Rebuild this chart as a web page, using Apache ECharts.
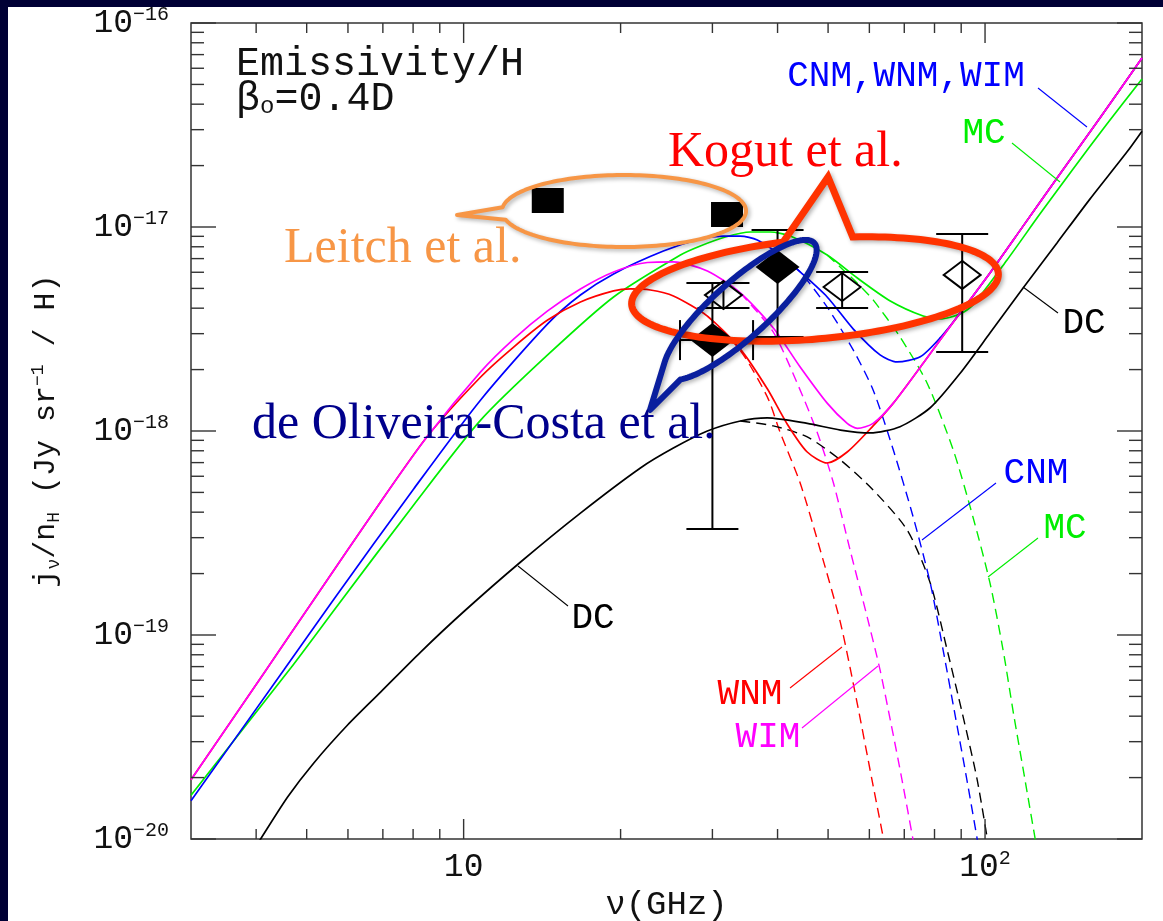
<!DOCTYPE html>
<html><head><meta charset="utf-8">
<script src="https://cdn.jsdelivr.net/npm/echarts@6/dist/echarts.min.js"></script>
<style>html,body{margin:0;padding:0;background:#000035;}#c{width:1163px;height:921px;}</style>
</head><body><div id="c"></div>
<script>
// ---------------- data (frequency in GHz, emissivity in Jy sr^-1 / H) ----------------
// CNM (blue)
const cnmNu = [3.0, 4.52, 5.66, 8.02, 10.78, 14.49, 16.75, 19.39, 24.16, 28.44, 31.49, 33.94, 36.58, 40.5, 44.2, 49.8, 55.9, 62.9, 67.8, 75.1, 82.0, 89.6, 102.2, 118.3, 139.2, 166.1, 200];
const cnmJ  = [1.54e-20, 6.74e-20, 1.52e-19, 5.20e-19, 1.42e-18, 3.35e-18, 4.64e-18, 5.89e-18, 7.62e-18, 8.73e-18, 9.03e-18, 9.03e-18, 8.64e-18, 7.29e-18, 6.02e-18, 4.54e-18, 3.16e-18, 2.36e-18, 2.18e-18, 2.31e-18, 2.86e-18, 3.79e-18, 5.95e-18, 1.01e-17, 1.82e-17, 3.42e-17, 6.74e-17];
const cnmDashNu = [40.5, 44.2, 49.8, 55.9, 61.0, 66.7, 72.8, 78.5, 83.1, 87.6, 92.3, 98.5];
const cnmDashJ  = [7.29e-18, 6.02e-18, 4.05e-18, 2.49e-18, 1.59e-18, 8.07e-19, 3.79e-19, 1.80e-19, 8.44e-20, 4.06e-20, 1.95e-20, 7.5e-21];
// WNM (red)
const wnmNu = [3.0, 4.18, 5.16, 6.93, 8.53, 10.78, 12.47, 14.49, 16.75, 19.39, 20.89, 22.81, 25.25, 29.34, 33.94, 38.23, 41.76, 45.6, 49.8, 54.4, 61.0, 66.7, 76.1, 88.4, 102.2, 118.3, 139.2, 166.1, 200];
const wnmJ  = [1.95e-20, 6.74e-20, 1.49e-19, 4.49e-19, 9.45e-19, 1.84e-18, 2.58e-18, 3.50e-18, 4.29e-18, 4.86e-18, 4.97e-18, 4.91e-18, 4.59e-18, 3.66e-18, 2.52e-18, 1.61e-18, 1.08e-18, 7.89e-19, 6.97e-19, 7.89e-19, 1.06e-18, 1.37e-18, 2.15e-18, 3.62e-18, 5.95e-18, 1.01e-17, 1.82e-17, 3.42e-17, 6.74e-17];
const wnmDashNu = [29.34, 33.94, 38.23, 40.5, 44.2, 48.3, 52.8, 56.7, 60.7, 65.5];
const wnmDashJ  = [3.66e-18, 2.48e-18, 1.47e-18, 9.78e-19, 5.56e-19, 2.61e-19, 1.15e-19, 4.80e-20, 1.95e-20, 7.2e-21];
// WIM (magenta)
const wimNu = [3.0, 4.18, 5.16, 6.93, 8.53, 10.78, 12.47, 14.49, 16.75, 19.39, 22.52, 25.25, 29.34, 33.94, 39.26, 44.2, 49.8, 54.4, 56.9, 61.0, 66.7, 76.1, 88.4, 102.2, 118.3, 139.2, 166.1, 200];
const wimJ  = [1.95e-20, 6.74e-20, 1.49e-19, 4.49e-19, 9.45e-19, 1.95e-18, 2.82e-18, 3.88e-18, 4.97e-18, 6.02e-18, 6.70e-18, 6.74e-18, 6.09e-18, 4.75e-18, 3.20e-18, 2.06e-18, 1.37e-18, 1.09e-18, 1.03e-18, 1.09e-18, 1.37e-18, 2.15e-18, 3.62e-18, 5.95e-18, 1.01e-17, 1.82e-17, 3.42e-17, 6.74e-17];
const wimDashNu = [33.94, 39.26, 43.6, 47.7, 51.2, 55.1, 59.4, 62.9, 66.1, 69.3, 75.0];
const wimDashJ  = [4.75e-18, 3.05e-18, 1.72e-18, 9.78e-19, 5.56e-19, 2.61e-19, 1.23e-19, 6.74e-20, 3.62e-20, 1.95e-20, 6.5e-21];
// MC (green)
const mcNu = [3.0, 4.66, 5.76, 8.02, 10.78, 14.49, 19.39, 26.05, 28.44, 31.77, 35.46, 38.73, 42.3, 49.8, 56.9, 65.8, 76.1, 82.0, 89.6, 94.8, 110.2, 127.5, 147.4, 171.3, 200];
const mcJ  = [1.64e-20, 6.89e-20, 1.42e-19, 4.34e-19, 1.13e-18, 2.36e-18, 4.54e-18, 7.29e-18, 8.07e-18, 8.93e-18, 9.45e-18, 9.45e-18, 9.03e-18, 7.29e-18, 5.62e-18, 4.34e-18, 3.66e-18, 3.54e-18, 3.75e-18, 4.15e-18, 6.89e-18, 1.16e-17, 1.92e-17, 3.20e-17, 5.31e-17];
const mcDashNu = [49.8, 56.9, 61.0, 68.7, 77.4, 86.9, 94.8, 102.2, 108.3, 113.5, 119.3, 127.0];
const mcDashJ  = [7.29e-18, 5.3e-18, 4.39e-18, 2.89e-18, 1.72e-18, 8.07e-19, 3.79e-19, 1.80e-19, 8.44e-20, 4.06e-20, 1.95e-20, 7.7e-21];
// DC (black)
const dcNu = [3.74, 4.08, 4.60, 5.16, 5.99, 6.93, 8.27, 10.0, 12.86, 16.75, 21.83, 25.25, 29.34, 33.94, 38.23, 45.6, 52.8, 60.2, 68.7, 78.5, 89.6, 102.2, 118.3, 137.4, 158.9, 187.1, 200];
const dcJ  = [7.05e-21, 1.0e-20, 1.61e-20, 2.36e-20, 3.62e-20, 5.25e-20, 8.25e-20, 1.30e-19, 2.28e-19, 3.96e-19, 6.59e-19, 8.25e-19, 1.0e-18, 1.12e-18, 1.16e-18, 1.09e-18, 1.01e-18, 9.78e-19, 1.05e-18, 1.30e-18, 1.92e-18, 3.02e-18, 5.02e-18, 8.35e-18, 1.37e-17, 2.33e-17, 2.95e-17];
const dcDashNu = [33.94, 39.26, 45.6, 52.8, 61.0, 70.9, 78.5, 84.6, 90.6, 96.6, 103.0];
const dcDashJ  = [1.12e-18, 1.06e-18, 9.35e-19, 7.21e-19, 5.14e-19, 3.27e-19, 1.80e-19, 8.44e-20, 4.06e-20, 1.95e-20, 7.4e-21];

// observations
const leitchNu = [14.5, 32.0];
const leitchJ  = [1.35e-17, 1.15e-17];
const kogutNu = [31.5, 53.2, 90.4];
const kogutJ  = [4.64e-18, 5.08e-18, 5.82e-18];
const kogutLo = [4.01e-18, 4.01e-18, 2.44e-18];
const kogutHi = [5.31e-18, 6.02e-18, 9.24e-18];
const docNu = [30.0, 40.0];
const docJ  = [2.79e-18, 6.37e-18];
const docLo = [3.31e-19, 2.89e-18];
const docHi = [5.31e-18, 9.67e-18];
const docNuLo = [26.0, null];
const docNuHi = [35.9, null];

// ticks
const xMajorTicks = [10, 100];
const xMinorTicks = [4, 5, 6, 7, 8, 9, 20, 30, 40, 50, 60, 70, 80, 90];
const yMajorTicks = [1e-20, 1e-19, 1e-18, 1e-17, 1e-16];
const yMinorMantissas = [2, 3, 4, 5, 6, 7, 8, 9];
const yMinorDecades = [-20, -19, -18, -17];

// ---------------- chart ----------------
const X_MIN = 3, X_MAX = 200, Y_MIN = 1e-20, Y_MAX = 1e-16;
const MONO = '"Liberation Mono", "DejaVu Sans Mono", monospace';
const SERIF = '"Liberation Serif", "DejaVu Serif", serif';
const AX = '#333333';
const C = {cnm: '#0000ff', wnm: '#ff0000', wim: '#ff00ff', mc: '#00ee00', dc: '#000000'};

const zip = (a, b) => a.map((v, i) => [v, b[i]]);
function curve(name, nu, j, color, dashed) {
  return {
    name, type: 'line', data: zip(nu, j), showSymbol: false, symbol: 'none',
    smooth: 0.25, clip: true, silent: true, z: dashed ? 2 : 3,
    lineStyle: {color, width: dashed ? 1.4 : 1.7, type: dashed ? [10, 6] : 'solid'}
  };
}

const yMinorTicks = [];
yMinorDecades.forEach(d => yMinorMantissas.forEach(m => yMinorTicks.push(m * Math.pow(10, d))));
const xTickData = xMajorTicks.map(v => [v, Y_MIN, 1]).concat(xMinorTicks.map(v => [v, Y_MIN, 0]));
const yTickData = yMajorTicks.map(v => [X_MIN, v, 1]).concat(yMinorTicks.map(v => [X_MIN, v, 0]));

const tickLine = (x1, y1, x2, y2) => ({type: 'line', shape: {x1, y1, x2, y2}, style: {stroke: AX, lineWidth: 1.4}});

const series = [
  // dashed (spinning dust only)
  curve('WNM dashed', wnmDashNu, wnmDashJ, C.wnm, true),
  curve('WIM dashed', wimDashNu, wimDashJ, C.wim, true),
  curve('DC dashed', dcDashNu, dcDashJ, C.dc, true),
  curve('CNM dashed', cnmDashNu, cnmDashJ, C.cnm, true),
  curve('MC dashed', mcDashNu, mcDashJ, C.mc, true),
  // solid totals
  curve('MC', mcNu, mcJ, C.mc, false),
  curve('CNM', cnmNu, cnmJ, C.cnm, false),
  curve('WNM', wnmNu, wnmJ, C.wnm, false),
  curve('WIM', wimNu, wimJ, C.wim, false),
  curve('DC', dcNu, dcJ, C.dc, false),
  // ticks
  {
    type: 'custom', silent: true, z: 6, data: xTickData,
    renderItem: (params, api) => {
      const cs = params.coordSys;
      const p = api.coord([api.value(0), api.value(1)]);
      const len = api.value(2) ? 20 : 10;
      const b = cs.y + cs.height;
      return {type: 'group', children: [tickLine(p[0], b, p[0], b - len), tickLine(p[0], cs.y, p[0], cs.y + len)]};
    }
  },
  {
    type: 'custom', silent: true, z: 6, data: yTickData,
    renderItem: (params, api) => {
      const cs = params.coordSys;
      const p = api.coord([api.value(0), api.value(1)]);
      const len = api.value(2) ? 25 : 13;
      const r = cs.x + cs.width;
      return {type: 'group', children: [tickLine(cs.x, p[1], cs.x + len, p[1]), tickLine(r, p[1], r - len, p[1])]};
    }
  },
  // vertical error bars
  {
    type: 'custom', silent: true, z: 4,
    data: kogutNu.map((v, i) => [v, kogutLo[i], kogutHi[i]]).concat(docNu.map((v, i) => [v, docLo[i], docHi[i]])),
    encode: {x: 0, y: [1, 2]},
    renderItem: (params, api) => {
      const lo = api.coord([api.value(0), api.value(1)]);
      const hi = api.coord([api.value(0), api.value(2)]);
      const w = 26, st = {stroke: '#000', lineWidth: 2};
      return {type: 'group', children: [
        {type: 'line', shape: {x1: lo[0], y1: lo[1], x2: hi[0], y2: hi[1]}, style: st},
        {type: 'line', shape: {x1: lo[0] - w, y1: lo[1], x2: lo[0] + w, y2: lo[1]}, style: st},
        {type: 'line', shape: {x1: hi[0] - w, y1: hi[1], x2: hi[0] + w, y2: hi[1]}, style: st}
      ]};
    }
  },
  // horizontal error bars
  {
    type: 'custom', silent: true, z: 4,
    data: docNu.map((v, i) => [docNuLo[i], docNuHi[i], docJ[i]]).filter(d => d[0] != null),
    encode: {x: [0, 1], y: 2},
    renderItem: (params, api) => {
      const a = api.coord([api.value(0), api.value(2)]);
      const b = api.coord([api.value(1), api.value(2)]);
      const h = 20, st = {stroke: '#000', lineWidth: 2};
      return {type: 'group', children: [
        {type: 'line', shape: {x1: a[0], y1: a[1], x2: b[0], y2: b[1]}, style: st},
        {type: 'line', shape: {x1: a[0], y1: a[1] - h, x2: a[0], y2: a[1] + h}, style: st},
        {type: 'line', shape: {x1: b[0], y1: b[1] - h, x2: b[0], y2: b[1] + h}, style: st}
      ]};
    }
  },
  {name: 'Leitch', type: 'scatter', data: zip(leitchNu, leitchJ), symbol: 'rect', symbolSize: [32, 25], z: 5, silent: true,
   itemStyle: {color: '#000', opacity: 1}},
  {name: 'Kogut', type: 'scatter', data: zip(kogutNu, kogutJ), symbol: 'diamond', symbolSize: [37, 28], z: 5, silent: true,
   itemStyle: {color: 'rgba(0,0,0,0)', borderColor: '#000', borderWidth: 2, opacity: 1}},
  {name: 'de Oliveira-Costa', type: 'scatter', data: zip(docNu, docJ), symbol: 'diamond', symbolSize: [44, 34], z: 5, silent: true,
   itemStyle: {color: '#000', opacity: 1}}
];

// ---------------- annotations ----------------
function ellipsePath(cx, cy, rx, ry, rotDeg, t0, t1, extra) {
  const R = rotDeg * Math.PI / 180, pts = [], n = 160;
  for (let i = 0; i <= n; i++) {
    const t = (t0 + (t1 - t0) * i / n) * Math.PI / 180;
    const u = rx * Math.cos(t), v = ry * Math.sin(t);
    pts.push([cx + u * Math.cos(R) + v * Math.sin(R), cy - u * Math.sin(R) + v * Math.cos(R)]);
  }
  return pts.concat(extra);
}
const shadow = {shadowBlur: 4, shadowOffsetX: 2, shadowOffsetY: 2, shadowColor: 'rgba(0,0,0,0.3)'};

const curveLabels = [
  ['CNM,WNM,WIM', 906, 76, C.cnm], ['MC', 984, 133, C.mc], ['DC', 1084, 323, C.dc], ['DC', 593, 618, C.dc],
  ['CNM', 1036, 473, C.cnm], ['MC', 1065, 528, C.mc], ['WNM', 750, 694, C.wnm], ['WIM', 768, 737, C.wim]
];
const leaders = [
  [1038, 88, 1087, 127, C.cnm], [1012, 143, 1060, 182, C.mc], [1023, 287, 1058, 313, C.dc], [518, 566, 568, 606, C.dc],
  [922, 540, 996, 483, C.cnm], [988, 577, 1038, 538, C.mc], [790, 688, 842, 647, C.wnm], [802, 728, 878, 666, C.wim]
];

const graphic = [
  {type: 'rect', shape: {x: 8, y: 7, width: 1155, height: 914}, style: {fill: '#ffffff'}, z: -100, silent: true},
  {type: 'text', x: 236, y: 64, z: 50, style: {text: 'Emissivity/H', font: '40px ' + MONO, fill: '#111', align: 'left', verticalAlign: 'middle'}},
  {type: 'text', x: 236, y: 99, z: 50, style: {text: '{n|β}{s|o}{n|=0.4D}', font: '40px ' + MONO, fill: '#111', align: 'left', verticalAlign: 'middle',
    rich: {n: {font: '40px ' + MONO, fill: '#111', lineHeight: 40}, s: {font: '24px ' + MONO, fill: '#111', verticalAlign: 'bottom', lineHeight: 28}}}}
];
curveLabels.forEach(([t, x, y, c]) => graphic.push({type: 'text', x, y, z: 50,
  style: {text: t, font: '36px ' + MONO, fill: c, align: 'center', verticalAlign: 'middle'}}));
leaders.forEach(([x1, y1, x2, y2, c]) => graphic.push({type: 'line', z: 50, shape: {x1, y1, x2, y2}, style: {stroke: c, lineWidth: 1.1}}));

// presentation callouts
graphic.push(
  {type: 'polygon', z: 100, shape: {points: ellipsePath(624, 211, 122, 36, 0, 186, 526, [[457, 215]])},
   style: Object.assign({fill: 'none', stroke: '#f79646', lineWidth: 4, lineJoin: 'round'}, shadow)},
  {type: 'polygon', z: 100, shape: {points: ellipsePath(815, 289, 184, 50, 4.9, 283.2, 621.3, [[828, 177]])},
   style: Object.assign({fill: 'none', stroke: '#ff3300', lineWidth: 7, lineJoin: 'miter'}, shadow)},
  {type: 'polygon', z: 100, shape: {points: ellipsePath(740, 310, 100, 28, 42, 205, 515, [[650, 410]])},
   style: Object.assign({fill: 'none', stroke: '#0a1f9e', lineWidth: 6, lineJoin: 'round'}, shadow)},
  {type: 'text', x: 284, y: 249, z: 101, style: {text: 'Leitch et al.', font: '50px ' + SERIF, fill: '#f79646', align: 'left', verticalAlign: 'middle'}},
  {type: 'text', x: 668, y: 153, z: 101, style: {text: 'Kogut et al.', font: '50px ' + SERIF, fill: '#ff0000', align: 'left', verticalAlign: 'middle'}},
  {type: 'text', x: 252, y: 425, z: 101, style: {text: 'de Oliveira-Costa et al.', font: '50px ' + SERIF, fill: '#00008c', align: 'left', verticalAlign: 'middle'}}
);

const isPow10 = v => Math.abs(Math.log10(v) - Math.round(Math.log10(v))) < 1e-6;
const tickRich = {
  b: {fontFamily: MONO, fontSize: 33, color: '#111', lineHeight: 36},
  s: {fontFamily: MONO, fontSize: 20, color: '#111', lineHeight: 26, verticalAlign: 'top'}
};

const option = {
  backgroundColor: '#000035',
  animation: false,
  grid: {left: 191, top: 23, right: 21, bottom: 82, show: true, borderColor: AX, borderWidth: 1.5,
         backgroundColor: 'transparent', containLabel: false, outerBoundsMode: 'none'},
  xAxis: {
    type: 'log', logBase: 10, min: X_MIN, max: X_MAX,
    axisLine: {show: false}, axisTick: {show: false}, splitLine: {show: false}, minorTick: {show: false},
    axisLabel: {margin: 10, showMinLabel: true, showMaxLabel: true, rich: tickRich,
      formatter: v => { if (!isPow10(v)) return ''; const e = Math.round(Math.log10(v)); return e === 1 ? '{b|10}' : '{b|10}{s|' + e + '}'; }},
    name: 'ν(GHz)', nameLocation: 'middle', nameGap: 47,
    nameTextStyle: {fontFamily: MONO, fontSize: 34, color: '#111'}
  },
  yAxis: {
    type: 'log', logBase: 10, min: Y_MIN, max: Y_MAX,
    axisLine: {show: false}, axisTick: {show: false}, splitLine: {show: false}, minorTick: {show: false},
    axisLabel: {margin: 22, rich: tickRich,
      formatter: v => { if (!isPow10(v)) return ''; const e = Math.round(Math.log10(v)); return '{b|10}{s|−' + (-e) + '}'; }},
    name: '{n|j}{sub|ν}{n|/n}{sub|H}{n| (Jy sr}{sup|−1}{n| / H)}', nameLocation: 'middle', nameGap: 128,
    nameTextStyle: {fontFamily: MONO, fontSize: 30, color: '#111',
      rich: {n: {fontFamily: MONO, fontSize: 30, color: '#111', lineHeight: 34},
             sub: {fontFamily: MONO, fontSize: 18, color: '#111', verticalAlign: 'bottom', lineHeight: 30},
             sup: {fontFamily: MONO, fontSize: 18, color: '#111', verticalAlign: 'top', lineHeight: 30}}}
  },
  graphic: graphic,
  series: series
};

const chart = echarts.init(document.getElementById('c'), null, {renderer: 'canvas'});
chart.setOption(option);
</script>
</body></html>
